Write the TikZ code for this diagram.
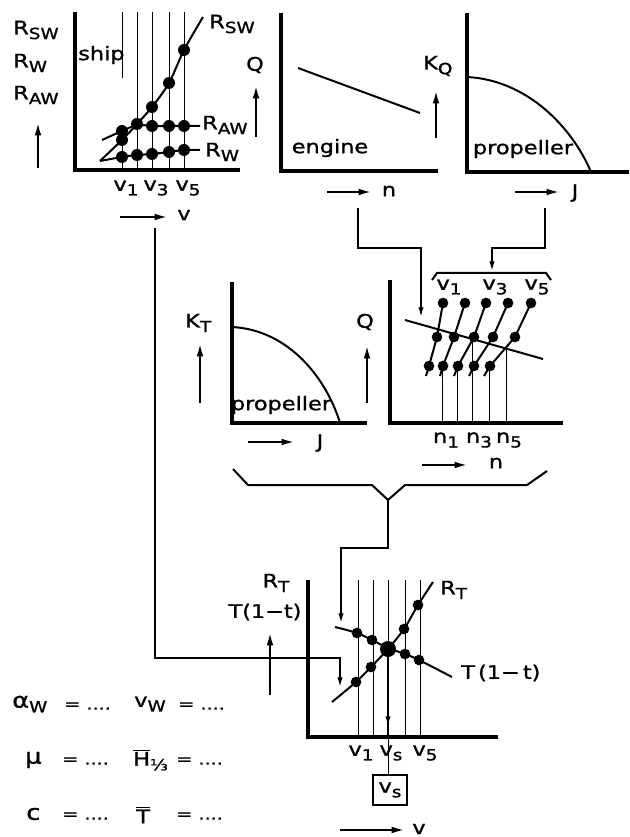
\documentclass[tikz,border=0pt]{standalone}
\usepackage{fontspec}
\setmainfont{DejaVu Sans}[FakeStretch=1.2,FakeBold=1.2]
\usetikzlibrary{arrows.meta}
\newcommand\sbs[1]{\raisebox{-3.5pt}{\fontsize{11.5}{12}\selectfont #1}}
\tikzset{
  axis/.style={line width=2.4pt},
  crv/.style={line width=1.5pt},
  gridln/.style={line width=0.55pt},
  conn/.style={line width=1.5pt},
  conarr/.style={conn,-{Latex[length=8pt,width=4pt]}},
  dirarr/.style={line width=1.7pt,-{Latex[length=10pt,width=5pt]}},
  dotA/.style={circle,fill,inner sep=0pt,minimum size=9pt},
  dotB/.style={circle,fill,inner sep=0pt,minimum size=8pt},
  dotC/.style={circle,fill,inner sep=0pt,minimum size=12pt},
  lbl/.style={inner sep=0pt,font=\fontsize{14}{16}\selectfont},
  word/.style={inner sep=0pt,font=\fontsize{14}{16}\selectfont},
  eqs/.style={inner sep=0pt,anchor=west,font=\fontsize{12}{14}\selectfont},
}
\begin{document}
\begin{tikzpicture}[x=0.75pt,y=-0.75pt]
\useasboundingbox (0,0) rectangle (629,837);

%% ---------- top-left: ship ----------
\draw[gridln] (122,12) -- (122,78) (122,128) -- (122,170);
\foreach \x in {137,152,169,184} \draw[gridln] (\x,12) -- (\x,170);
\draw[axis] (75,12) -- (75,170) -- (240,170);
\draw[crv] plot[smooth] coordinates {(100,161) (122,140) (137,124) (152,107) (169,83) (184,50) (203,17)};
\draw[crv] plot[smooth] coordinates {(102,140) (122,131) (137,125) (152,126) (169,126) (184,126) (200,126)};
\draw[crv] plot[smooth] coordinates {(100,161) (122,157) (137,155) (152,154) (169,152) (184,150) (200,150)};
\foreach \p in {(122,140),(137,124),(152,107),(169,83),(184,50),
                (122,131),(152,126),(169,126),(184,126),
                (122,157),(137,155),(152,154),(169,152),(184,150)}
  \node[dotA] at \p {};
\node[lbl,anchor=west] (rswR) at (209,24) {R\sbs{SW}};
\node[lbl,anchor=west] (rawR) at (202,125) {R\sbs{AW}};
\node[lbl,anchor=west] (rwR) at (205,152) {R\sbs{W}};
\node[lbl,anchor=west] (rswL) at (13,30) {R\sbs{SW}};
\node[lbl,anchor=west] (rwL) at (13,63) {R\sbs{W}};
\node[lbl,anchor=west] (rawL) at (13,95) {R\sbs{AW}};
\draw[dirarr] (38,168) -- (38,122);
\node[word,anchor=west] (ship) at (78,55) {ship};
\node[lbl] (tv1) at (126,188) {v\sbs{1}};
\node[lbl] (tv3) at (156,188) {v\sbs{3}};
\node[lbl] (tv5) at (188,188) {v\sbs{5}};
\coordinate (vA1) at (120,217); \coordinate (vA2) at (168,217);
\draw[dirarr] (vA1) -- (vA2);
\node[lbl] (vlab1) at (184,215) {v};

%% ---------- top-middle: engine ----------
\draw[axis] (281,13) -- (281,171) -- (438,171);
\draw[crv] (298,68) -- (420,113);
\node[word] (eng) at (330,148) {engine};
\node[lbl] (Q1) at (255,65) {Q};
\draw[dirarr] (256,137) -- (256,85);
\draw[dirarr] (327,192) -- (372,192);
\node[lbl] (n1lab) at (389,191) {n};

%% ---------- top-right: propeller KQ ----------
\draw[axis] (467,13) -- (467,172) -- (629,172);
\draw[crv] (467,77) .. controls (527,80) and (572,127) .. (591,172);
\node[word] (prop1) at (523,149) {propeller};
\node[lbl,anchor=west] (KQ) at (423,66) {K\sbs{Q}};
\draw[dirarr] (436,138) -- (436,90);
\draw[dirarr] (515,192) -- (560,192);
\node[lbl] (J1) at (575,193) {J};

%% ---------- connectors to middle-right ----------
\coordinate (nOut) at (358,208);
\coordinate (engIn) at (421,318);
\draw[conarr] (nOut) -- (358,248) -- (421,248) -- (engIn);
\coordinate (jOut) at (545,208);
\coordinate (braceIn) at (492,272);
\draw[conarr] (jOut) -- (545,248) -- (492,248) -- (braceIn);
\draw[conn] (432,280) -- (437,273) -- (546,273) -- (551,280);
\node[lbl] (bv1) at (449,287) {v\sbs{1}};
\node[lbl] (bv3) at (495,287) {v\sbs{3}};
\node[lbl] (bv5) at (537,287) {v\sbs{5}};

%% ---------- middle-left: KT ----------
\draw[axis] (232,282) -- (232,423) -- (367,423);
\draw[crv] (232,327) .. controls (290,330) and (327,380) .. (340,423);
\node[word] (prop2) at (281,405) {propeller};
\node[lbl,anchor=west] (KT) at (185,323) {K\sbs{T}};
\draw[dirarr] (200,403) -- (200,343);
\draw[dirarr] (248,442) -- (295,442);
\node[lbl] (J2) at (320,443) {J};

%% ---------- middle-right: Q-n ----------
\draw[gridln] (442,366) -- (442,423) (457,366) -- (457,423) (472,339) -- (472,423)
              (489,366) -- (489,423) (506,349) -- (506,423);
\draw[axis] (390,280) -- (390,423) -- (563,423);
\draw[crv] (405,320) -- (543,359);
\foreach \a/\b/\c/\d in {426/429/437/443, 440/443/454/465, 454/458/474/486, 469/474/493/508, 484/490/515/531}{
  \draw[crv] (\a,376) -- (\b,366) -- (\c,337) -- (\d,303);
  \node[dotB] at (\b,366) {};
  \node[dotB] at (\c,337) {};
  \node[dotB] at (\d,303) {};
}
\node[lbl] (Q2) at (365,322) {Q};
\draw[dirarr] (367,403) -- (367,345);
\node[lbl] (nn1) at (446,440) {n\sbs{1}};
\node[lbl] (nn3) at (479,440) {n\sbs{3}};
\node[lbl] (nn5) at (509,440) {n\sbs{5}};
\draw[dirarr] (422,465) -- (468,465);
\node[lbl] (n2lab) at (496,463) {n};

%% ---------- big brace ----------
\coordinate (tip) at (388,500);
\coordinate (rtIn) at (341,624);
\draw[conn] (233,469) -- (248,485) -- (372,485) -- (tip) -- (405,485) -- (527,485) -- (547,471);
\draw[conarr] (tip) -- (388,548) -- (341,548) -- (rtIn);

%% ---------- bottom chart ----------
\foreach \x in {358,373,388,405,420} \draw[gridln] (\x,580) -- (\x,737);
\draw[axis] (308,580) -- (308,737) -- (498,737);
\draw[crv] plot[smooth] coordinates {(332,702) (356,682) (371,667) (388,649) (404,629) (418,605) (433,582)};
\draw[crv] plot[smooth] coordinates {(335,627) (357,633) (372,640) (388,648) (405,654) (419,660) (452,677)};
\foreach \p in {(356,682),(371,667),(404,629),(418,605),(357,633),(372,640),(405,654),(419,660)}
  \node[dotB] at \p {};
\node[dotC] (cross) at (388,649) {};
\draw[conn] (cross.center) -- (388,737);
\draw[conarr] (cross.center) -- (388,727);
\node[lbl] (bv1b) at (361,753) {v\sbs{1}};
\node[lbl] (bvsb) at (391,753) {v\sbs{s}};
\node[lbl] (bv5b) at (425,753) {v\sbs{5}};
\node[lbl,draw,line width=1.8pt,minimum width=25.5pt,minimum height=22.5pt] (vsbox) at (390,790) {v\sbs{s}};
\coordinate (axvs) at (388,737);
\draw[gridln] (axvs) -- (axvs |- vsbox.north);
\node[lbl,anchor=west] (RTr) at (440,590) {R\sbs{T}};
\node[lbl,anchor=west] (Ttr) at (461,673) {T\,(1−\,t)};
\node[lbl] (RTl) at (276,583) {R\sbs{T}};
\node[lbl] (Ttl) at (265,612) {T(1−t)};
\draw[dirarr] (270,695) -- (270,632);
\coordinate (vOut) at (155,228);
\coordinate (rtIn2) at (340,688);
\draw[conarr] (vOut) -- (155,658) -- (340,658) -- (rtIn2);
\draw[dirarr] (340,830) -- (405,830);
\node[lbl] (vlab2) at (419,829) {v};

%% ---------- inputs ----------
\node[lbl,anchor=west,font=\fontsize{16}{18}\selectfont] (aw) at (12,704) {α\sbs{W}};
\node[eqs] (awe) at (64,706) {= ....};
\node[lbl,anchor=west] (vw) at (134,704) {v\sbs{W}};
\node[eqs] (vwe) at (178,706) {= ....};
\node[lbl,anchor=west,font=\fontsize{16}{18}\selectfont] (mu) at (25,760) {μ};
\node[eqs] (mue) at (62,761) {= ....};
\node[lbl,anchor=west] (hh) at (133,760) {$\overline{\mbox{H}}$\sbs{⅓}};
\node[eqs] (hhe) at (176,761) {= ....};
\node[lbl,anchor=west,font=\fontsize{16}{18}\selectfont] (cc) at (26,814) {c};
\node[eqs] (cce) at (62,816) {= ....};
\node[lbl,anchor=west] (tt) at (136,815) {$\overline{\mbox{T}}$};
\node[eqs] (tte) at (176,816) {= ....};
\end{tikzpicture}
\end{document}
